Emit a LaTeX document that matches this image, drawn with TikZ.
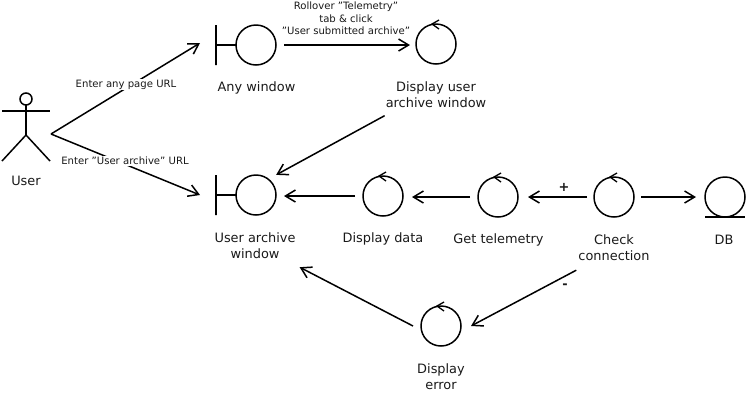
\documentclass[tikz,border=0pt]{standalone}
\usepackage{fontspec}
\setmainfont{DejaVu Sans}
\usetikzlibrary{arrows.meta}
\tikzset{
  x=1pt,y=-1pt,
  ln/.style={line width=1.5pt,black},
  conn/.style={ln,-{Straight Barb[length=10pt,width=12pt,line width=1.5pt]}},
  ctl/.style={circle,draw,ln,minimum size=40pt,inner sep=0pt,outer sep=0pt},
  barnode/.style={draw,ln,minimum height=40pt,minimum width=0pt,inner sep=0pt,outer sep=0pt,rectangle},
  lbl/.style={font=\fontsize{12.9}{16}\selectfont,align=center,text=black!90,inner sep=0pt},
  small/.style={font=\fontsize{10.1}{12.5}\selectfont,align=center,text=black!90,inner sep=1pt},
  smallw/.style={small,fill=white}
}
\newcommand{\loopmark}[1]{\draw[ln,line width=1.3pt] ([shift={(3,-4)}]#1.north) -- ([shift={(-4,0)}]#1.north) -- ([shift={(3,5)}]#1.north);}
\begin{document}
\begin{tikzpicture}
\useasboundingbox (0,0) rectangle (749,400);
% actor
\node[circle,draw,ln,minimum size=12pt,inner sep=0pt,outer sep=0pt] (head) at (26,99) {};
\coordinate (hip) at (26,135);
\coordinate (actor) at (51,134);
\draw[ln] (head.south) -- (hip);
\draw[ln] (2,111) -- (50,111);
\draw[ln] (2,161) -- (hip) -- (50,161);
\node[lbl] (userl) at (26,181) {User};
% boundary objects
\node[ctl] (anywin) at (256,45) {};
\node[barnode] (anybar) at (216,45) {};
\draw[ln] (anybar.center) -- (anywin.west);
\node[lbl] (anywinl) at (256.5,88) {Any window};
\node[ctl] (userwin) at (256,195) {};
\node[barnode] (userbar) at (216,195) {};
\draw[ln] (userbar.center) -- (userwin.west);
\node[lbl] (userwinl) at (255,246) {User archive\\window};
% controls
\node[ctl] (dispwin) at (436,44) {};
\node[lbl] (dispwinl) at (436,94.5) {Display user\\archive window};
\node[ctl] (dispdata) at (383,196) {};
\node[lbl] (dispdatal) at (383,239) {Display data};
\node[ctl] (gettel) at (498,197) {};
\node[lbl] (gettell) at (498.5,240) {Get telemetry};
\node[ctl] (check) at (614,197) {};
\node[lbl] (checkl) at (614,248) {Check\\connection};
\node[ctl] (err) at (441,326) {};
\node[lbl] (errl) at (441,377) {Display\\error};
\foreach \n in {dispwin,dispdata,gettel,check,err}{\loopmark{\n}}
% entity
\node[ctl] (db) at (725,197) {};
\draw[ln] ([xshift=-20pt]db.south) -- ([xshift=20pt]db.south);
\node[lbl] (dbl) at (724,240) {DB};
% connectors
\draw[conn] (actor) -- ([xshift=-16pt,yshift=2pt]anybar.west);
\draw[conn] (actor) -- ([xshift=-16pt]userbar.west);
\draw[conn] ([xshift=8pt]anywin.east) -- ([xshift=-6pt]dispwin.west |- anywin.east);
\draw[conn] ([shift={(-1,8)}]dispwinl.south west) -- ([shift={(6,-6)}]userwin.45);
\draw[conn] ([xshift=-8pt]dispdata.west) -- ([xshift=8pt]userwin.east |- dispdata.west);
\draw[conn] ([xshift=-8pt]gettel.west) -- ([xshift=9pt]dispdata.east |- gettel.west);
\draw[conn] ([xshift=-7pt]check.west) -- ([xshift=10pt]gettel.east);
\draw[conn] ([xshift=7pt]check.east) -- ([xshift=-9pt]db.west);
\draw[conn] ([shift={(-2,9)}]checkl.south west) -- ([xshift=10pt]err.east);
\draw[conn] ([xshift=-8pt]err.west) -- ([shift={(4,8)}]userwinl.south east);
% connector labels
\node[smallw] (l1) at (126,84.5) {Enter any page URL};
\node[smallw] (l2) at (125,161) {Enter "User archive" URL};
\node[small] (l3) at (346,18.5) {Rollover "Telemetry"\\tab \& click\\"User submitted archive"};
\node[lbl,font=\bfseries\fontsize{12.9}{16}\selectfont] (lp) at (564,187) {+};
\node[lbl,font=\bfseries\fontsize{12.9}{16}\selectfont] (lm) at (565,286) {-};
\end{tikzpicture}
\end{document}
